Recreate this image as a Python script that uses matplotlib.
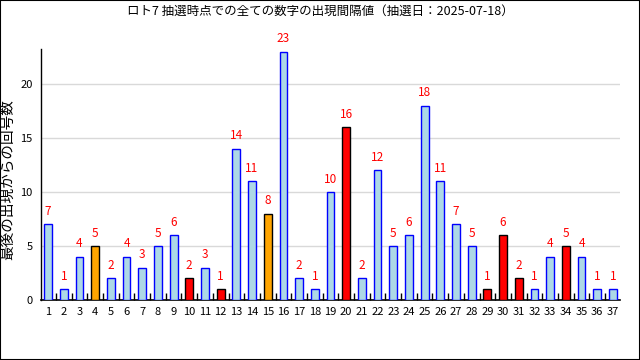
import matplotlib
matplotlib.use("Agg")
import matplotlib.pyplot as plt
from matplotlib.ticker import FixedLocator

plt.rcParams['font.family'] = ['Noto Sans CJK JP', 'DejaVu Sans']

numbers = list(range(1, 38))
intervals = [7, 1, 4, 5, 2, 4, 3, 5, 6, 2, 3, 1, 14, 11, 8, 23, 2, 1, 10, 16,
             2, 12, 5, 6, 18, 11, 7, 5, 1, 6, 2, 1, 4, 5, 4, 1, 1]
orange_nums = [4, 15]
red_nums = [10, 12, 20, 29, 30, 31, 34]
title = "ロト7 抽選時点での全ての数字の出現間隔値（抽選日：2025-07-18）"
ylabel = "最後の出現からの回号数"

fill = []
edge = []
for n in numbers:
    if n in red_nums:
        fill.append("#ff0000"); edge.append("black")
    elif n in orange_nums:
        fill.append("#ffa500"); edge.append("black")
    else:
        fill.append("#add8e6"); edge.append("#0000ff")

fig = plt.figure(figsize=(6.4, 3.6), dpi=100)
ax = fig.add_axes([41/640, 60/360, (620-41)/640, (300-49.4)/360])
ax.bar(numbers, intervals, width=0.5, color=fill, edgecolor=edge, linewidth=1.0, zorder=3)
for n, v in zip(numbers, intervals):
    ax.text(n, v + 0.6, str(v), color="red", ha="center", va="bottom", fontsize=8.5)

ax.set_xlim(0.55, 37.45)
ax.set_ylim(0, 23.2)
ax.set_xticks(numbers)
ax.set_xticklabels([str(n) for n in numbers], fontsize=8)
ax.xaxis.set_minor_locator(FixedLocator([n + 0.5 for n in numbers[:-1]]))
ax.tick_params(axis='x', which='major', length=0, pad=5)
ax.tick_params(axis='x', which='minor', direction='in', length=5, width=1)
ax.set_yticks([0, 5, 10, 15, 20])
ax.tick_params(axis='y', direction='in', length=0, labelsize=8, pad=6)
ax.yaxis.grid(True, color="#d9d9d9", linewidth=1, zorder=0)
ax.spines['top'].set_visible(False)
ax.spines['right'].set_visible(False)
ax.spines['left'].set_linewidth(1)
ax.spines['bottom'].set_linewidth(1.2)
fig.text(8/640, 1 - 180/360, ylabel, rotation=90, ha="center", va="center", fontsize=10.5)
fig.text(0.5, 1 - 11/360, title, ha="center", va="center", fontsize=9)

border = plt.Rectangle((0, 0), 1, 1, transform=fig.transFigure, fill=False,
                       edgecolor="black", linewidth=1.5)
fig.patches.append(border)

fig.savefig("out.png", dpi=100)
